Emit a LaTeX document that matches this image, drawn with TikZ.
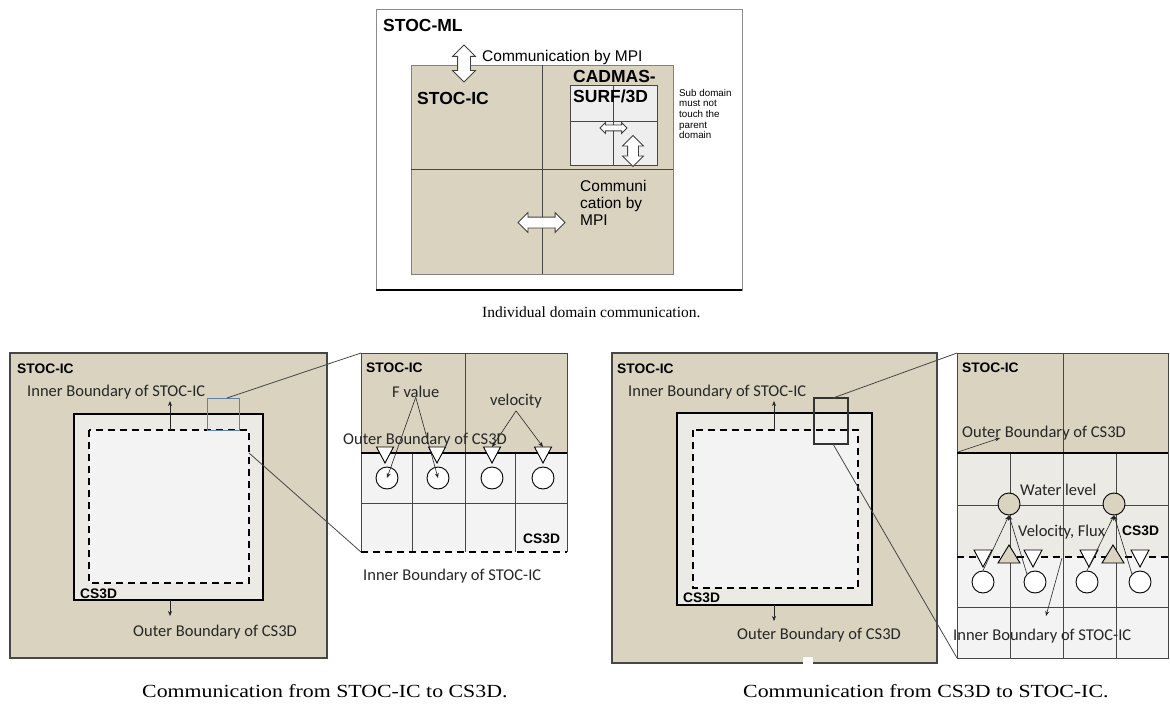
\documentclass[tikz,border=0pt]{standalone}
\usepackage{fontspec}
\setmainfont{Liberation Serif}
\newfontfamily\calfont{Carlito}
\newfontfamily\arfont{Liberation Sans}
\usetikzlibrary{shapes.arrows,arrows.meta,calc}

\definecolor{tanbg}{RGB}{217,211,192}
\definecolor{csbg}{RGB}{236,234,228}
\definecolor{innerbg}{RGB}{243,243,243}
\definecolor{subbg}{RGB}{238,238,238}
\definecolor{zoomblue}{RGB}{96,130,170}
\definecolor{edge}{RGB}{70,70,70}

\begin{document}
\begin{tikzpicture}[x=1pt, y=-1pt, >={Stealth[length=5pt,width=4pt]},
    lbl/.style={font=\calfont\fontsize{16.5}{18}\selectfont, text=black!85, inner sep=0pt, anchor=base west},
    hdr/.style={font=\arfont\bfseries\fontsize{13.8}{16}\selectfont, inner sep=0pt, anchor=base west},
    big/.style={font=\arfont\bfseries\fontsize{17.5}{20}\selectfont, inner sep=0pt, anchor=base west},
    arl/.style={font=\arfont\fontsize{15.5}{17}\selectfont, inner sep=0pt, anchor=base west},
    captext/.style={font=\fontsize{18.5}{21}\selectfont, xscale=1.18, inner sep=0pt, anchor=base west},
    gridline/.style={draw=edge, line width=0.7pt},
    bound/.style={draw=black, line width=1.8pt},
    dashbound/.style={draw=black, line width=1.8pt, dash pattern=on 7pt off 5pt},
    blockarrow/.style={double arrow, draw=black!75, fill=white, line width=0.8pt,
        inner xsep=0pt, double arrow head indent=0pt},
    dot/.style={circle, draw=black, line width=0.9pt, fill=white, minimum size=22pt, inner sep=0pt},
    ptr/.style={->, line width=0.6pt, draw=black!85}]

\useasboundingbox (0,0) rectangle (1170,706);

% Individual domain communication
\draw[draw=black!45, line width=0.8pt] (376,9) rectangle (742,290);
\draw[line width=1.6pt] (376,290) -- (742,290);
\filldraw[fill=tanbg, draw=black!50, line width=0.7pt] (411,65) rectangle (673,274);
\draw[gridline] (542,65) -- (542,274);
\draw[gridline] (411,169) -- (673,169);
\filldraw[fill=subbg, gridline] (570,85) rectangle (657,165);
\draw[gridline] (613,85) -- (613,165) (570,121) -- (657,121);

\node[big] (ml) at (383,32) {STOC-ML};
\node[arl] (mpitop) at (482,62) {Communication by MPI};
\node[big] (icTop) at (417,105) {STOC-IC};
\node[big, align=left, anchor=north west, font=\arfont\bfseries\fontsize{17.5}{20}\selectfont]
    (cadmas) at (573,70) {CADMAS-\\SURF/3D};
\node[font=\arfont\fontsize{9.8}{10.6}\selectfont, anchor=north west, align=left, inner sep=0pt]
    (subnote) at (679,89) {Sub domain\\must not\\touch the\\parent\\domain};
\node[arl, align=left, anchor=north west, font=\arfont\fontsize{15.5}{17}\selectfont]
    (mpimid) at (580,180) {Communi\\cation by\\MPI};

% block arrows
\node[blockarrow, rotate=90, minimum height=37pt, inner ysep=6pt,
    double arrow head extend=5pt] (arrA) at (464,63.5) {};
\node[blockarrow, minimum height=27pt, inner ysep=2.5pt,
    double arrow head extend=2.5pt] (arrB) at (613.5,128) {};
\node[blockarrow, rotate=90, minimum height=31pt, inner ysep=5pt,
    double arrow head extend=5pt] (arrC) at (633,151) {};
\node[blockarrow, minimum height=47pt, inner ysep=5pt,
    double arrow head extend=4.5pt] (arrD) at (541.5,222.5) {};

\node[font=\fontsize{15.5}{18}\selectfont, inner sep=0pt, anchor=base west] (captop) at (482,317)
    {Individual domain communication.};

% STOC-IC -> CS3D, whole domain
\filldraw[fill=tanbg, draw=edge, line width=1.2pt] (10,353) rectangle (327,658);
\filldraw[fill=csbg, bound] (74,414) rectangle (263,600);
\fill[innerbg] (89,430) rectangle (249,583);
\draw[dashbound] (89,430) rectangle (249,583);
\draw[zoomblue, line width=1pt] (207,398) rectangle (239,430);
\coordinate (lbox) at (227,398);
\coordinate (ldash) at (249,453);
\coordinate (lupfoot) at (170,430);
\coordinate (lupTip) at (170,401);
\coordinate (ldnfoot) at (170,600);
\coordinate (ldnTip) at (170,616);

\node[hdr] (icL) at (17,373) {STOC-IC};
\node[lbl] (iblL) at (27,396) {Inner Boundary of STOC-IC};
\node[hdr] (csL) at (80,598) {CS3D};
\node[lbl] (oblL) at (133,636) {Outer Boundary of CS3D};
\draw[ptr] (lupfoot) -- (lupTip);
\draw[ptr] (ldnfoot) -- (ldnTip);

% STOC-IC -> CS3D, close-up
\fill[tanbg] (361,353) rectangle (567,453);
\fill[innerbg] (361,453) rectangle (567,552);
\draw[gridline] (465,353) -- (465,552);
\draw[gridline] (412,453) -- (412,552) (515,453) -- (515,552);
\draw[gridline] (361,503) -- (567,503);
\draw[gridline] (361,552) -- (361,353) -- (567,353) -- (567,552);
\draw[line width=1.6pt] (361,453) -- (567,453);
\draw[dashbound] (361,552) -- (567,552);
\coordinate (lzTL) at (361,353);
\coordinate (lzBL) at (361,552);
\draw[edge, line width=0.8pt] (lbox) -- (lzTL);
\draw[edge, line width=0.8pt] (ldash) -- (lzBL);

\foreach \tx/\nm in {385/t1, 437/t2, 492/t3, 543/t4} {
    \filldraw[fill=white, draw=black, line width=0.9pt]
        (\tx-8.5,447) -- (\tx+8.5,447) -- (\tx,463) -- cycle;
    \coordinate (\nm) at (\tx,447);
}
\node[dot] (c1) at (387,478) {};
\node[dot] (c2) at (438,478) {};
\node[dot] (c3) at (492,478) {};
\node[dot] (c4) at (543,478) {};

\node[hdr] (icLz) at (366,372) {STOC-IC};
\node[lbl] (fval) at (392,397) {F value};
\node[lbl] (vel) at (490,405) {velocity};
\node[lbl] (oblLz) at (343,444) {Outer Boundary of CS3D};
\node[hdr] (csLz) at (523,543) {CS3D};
\node[lbl] (iblLz) at (363,580) {Inner Boundary of STOC-IC};
\draw[ptr] (fval.south) -- (c1.center);
\draw[ptr] (fval.south) -- (c2.center);
\draw[ptr] ($(vel.south)+(0,3)$) -- (t3);
\draw[ptr] ($(vel.south)+(0,3)$) -- (t4);

\node[captext] (capL) at (142,697) {Communication from STOC-IC to CS3D.};

% CS3D -> STOC-IC, whole domain
\filldraw[fill=tanbg, draw=edge, line width=1.2pt] (612,353) rectangle (937,663);
\fill[white] (803,657) rectangle (813,664);
\filldraw[fill=csbg, bound] (677,413) rectangle (872,605);
\fill[innerbg] (693,430) rectangle (858,588);
\draw[dashbound] (693,430) rectangle (858,588);
\draw[black!80, line width=1.2pt] (814,398) rectangle (848,444);
\coordinate (rboxT) at (833,398);
\coordinate (rboxB) at (833,444);
\coordinate (rupfoot) at (774,430);
\coordinate (rupTip) at (774,401);
\coordinate (rdnfoot) at (774,605);
\coordinate (rdnTip) at (774,621);

\node[hdr] (icR) at (617,373) {STOC-IC};
\node[lbl] (iblR) at (628,396) {Inner Boundary of STOC-IC};
\node[hdr] (csR) at (683,602) {CS3D};
\node[lbl] (oblR) at (737,639) {Outer Boundary of CS3D};
\draw[ptr] (rupfoot) -- (rupTip);
\draw[ptr] (rdnfoot) -- (rdnTip);

% CS3D -> STOC-IC, close-up
\fill[tanbg] (957,353) rectangle (1168,453);
\fill[csbg] (957,453) rectangle (1168,557);
\fill[innerbg] (957,557) rectangle (1168,658);
\draw[gridline] (1063,353) -- (1063,658);
\draw[gridline] (1010,453) -- (1010,658) (1116,453) -- (1116,658);
\draw[gridline] (957,505) -- (1168,505) (957,607) -- (1168,607);
\draw[gridline] (957,353) rectangle (1168,658);
\draw[line width=1.6pt] (957,453) -- (1168,453);
\draw[dashbound] (957,557) -- (1168,557);
\coordinate (rzTL) at (957,353);
\coordinate (rzBL) at (957,658);
\draw[edge, line width=0.8pt] (rboxT) -- (rzTL);
\draw[edge, line width=0.8pt] (rboxB) -- (rzBL);

\foreach \tx in {1009, 1113} {
    \filldraw[fill=tanbg, draw=black, line width=0.9pt]
        (\tx-11,563) -- (\tx,545) -- (\tx+11,563) -- cycle;
}
\foreach \tx in {983, 1033, 1089, 1140} {
    \filldraw[fill=white, draw=black, line width=0.9pt]
        (\tx-9,550) -- (\tx+9,550) -- (\tx,567) -- cycle;
}
\node[dot, fill=tanbg] (wl1) at (1009,504) {};
\node[dot, fill=tanbg] (wl2) at (1114,504) {};
\node[dot] (wa) at (983,582) {};
\node[dot] (wb) at (1035,582) {};
\node[dot] (wc) at (1087,582) {};
\node[dot] (wd) at (1140,582) {};

\node[hdr] (icRz) at (962,372) {STOC-IC};
\node[lbl] (oblRz) at (962,437) {Outer Boundary of CS3D};
\node[lbl] (water) at (1020,495) {Water level};
\node[lbl] (flux) at (1018,536) {Velocity, Flux};
\node[hdr] (csRz) at (1122,535) {CS3D};
\node[lbl] (iblRz) at (953,640) {Inner Boundary of STOC-IC};
\coordinate (obFoot) at (958,452);
\coordinate (ibFoot) at (1062,558);
\coordinate (ibTip) at (1046,616);
\draw[ptr] (obFoot) -- ($(oblRz.base west)+(38,1)$);
\draw[ptr] (ibFoot) -- (ibTip);
\draw[ptr] (wa.north) -- (wl1.south);
\draw[ptr] (wb.north west) -- (wl1.south);
\draw[ptr] (wc.north) -- (wl2.south);
\draw[ptr] (wd.north west) -- (wl2.south);

\node[captext] (capR) at (743,697) {Communication from CS3D to STOC-IC.};
\end{tikzpicture}
\end{document}
